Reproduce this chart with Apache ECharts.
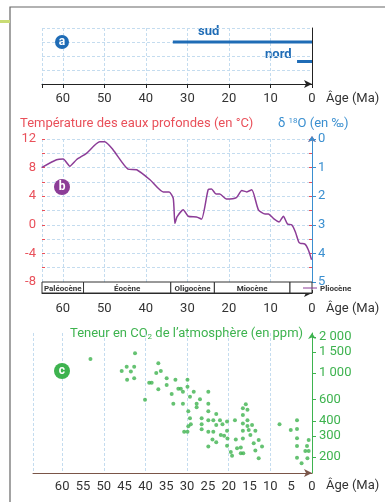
<!DOCTYPE html>
<html>
<head>
<meta charset="utf-8">
<script src="https://cdn.jsdelivr.net/npm/echarts@6.0.0/dist/echarts.min.js"></script>
<style>
  html, body { margin: 0; background: #fff; }
  #chart { width: 385px; height: 502px; }
</style>
</head>
<body>
<div id="chart"></div>
<script>
// --- data ---
const sudSpan = [33.5, 0]
const nordSpan = [3.6, 0]

const tempAge = [65.1, 61.5, 59.9, 58.3, 56.7, 54.3, 51.1, 49.9, 47.9, 44.3, 42.2, 39.0, 35.8, 34.4, 33.4, 33.0, 32.5, 31.0, 29.8, 27.8, 26.6, 25.0, 24.2, 23.1, 22.2, 20.6, 18.2, 16.9, 15.7, 14.5, 12.9, 11.3, 10.5, 9.3, 7.9, 6.9, 5.9, 4.9, 4.0, 3.2, 2.8, 1.7, 0.9, 0.1]
const tempVal = [8.0, 9.1, 9.2, 8.2, 9.1, 10.0, 11.6, 11.6, 10.5, 7.8, 7.7, 6.3, 4.6, 4.6, 3.7, 0.2, 1.1, 2.1, 1.2, 1.1, 0.8, 4.9, 5.0, 4.3, 4.3, 3.6, 3.8, 4.8, 4.6, 4.9, 2.1, 1.5, 1.5, 0.9, 0.4, 1.2, 0.1, 0.0, -1.0, -2.4, -2.6, -2.7, -3.5, -4.9]

const epochNames = ['Paléocène', 'Éocène', 'Oligocène', 'Miocène', 'Pliocène']
const epochStart = [65, 55, 34, 23.5, 5.3]
const epochEnd = [55, 34, 23.5, 5.3, 0]

const co2Age = [53.2, 42.5, 45.7, 44.5, 43.5, 42.7, 44.4, 42.7, 40.1, 39.1, 38.5, 36.9, 37.4, 36.3, 36.9, 34.9, 34.9, 33.7, 33.3, 32.8, 32.1, 31.5, 31.0, 31.0, 29.9, 29.9, 29.3, 28.4, 29.7, 29.3, 29.7, 29.1, 30.7, 29.9, 27.7, 27.7, 26.9, 26.5, 26.5, 26.5, 24.9, 24.9, 24.9, 24.9, 24.9, 24.9, 23.7, 23.7, 23.0, 23.0, 23.9, 23.0, 22.1, 21.5, 21.9, 21.1, 20.4, 20.4, 20.3, 20.4, 19.5, 19.2, 18.5, 18.3, 18.0, 17.1, 17.1, 16.5, 16.6, 16.6, 16.6, 16.6, 16.6, 15.9, 15.5, 15.5, 15.5, 15.2, 14.8, 14.4, 14.0, 13.6, 13.6, 12.8, 12.8, 12.0, 7.8, 5.1, 3.6, 3.6, 3.6, 3.6, 3.6, 2.5, 1.2, 1.6, 0.8, 1.1, 0.8]
const co2Ppm = [1310, 1460, 1040, 1130, 1030, 1130, 880, 905, 600, 830, 830, 1210, 1000, 1040, 735, 905, 795, 670, 555, 880, 740, 740, 700, 555, 880, 770, 635, 700, 480, 420, 360, 375, 325, 325, 520, 555, 605, 420, 375, 340, 700, 555, 480, 405, 325, 245, 405, 325, 455, 370, 280, 265, 405, 375, 305, 300, 395, 330, 285, 248, 220, 205, 405, 280, 236, 240, 215, 215, 285, 330, 380, 448, 510, 550, 495, 405, 362, 335, 305, 370, 260, 226, 330, 277, 195, 244, 375, 335, 405, 342, 286, 247, 197, 177, 247, 224, 224, 195, 277]

const co2Ticks = [200, 300, 400, 600, 1000, 1500, 2000]

// --- style ---
const FONT = 'Roboto, sans-serif'
const FS = 13
const RED = '#e9505a'
const BLUE = '#3a8fd0'
const DARKBLUE = '#1f6cb6'
const PURPLE = '#8c3d97'
const GREEN = '#3eb34f'
const GRID_DASH = { color: '#c4dcef', type: [3, 2], width: 1 }
const hideOver60 = (v) => (v > 60 ? '' : String(v))

const chart = echarts.init(document.getElementById('chart'))

const badge = (x, y, r, color, txt) => ({
  type: 'group',
  z: 100,
  children: [
    { type: 'circle', z: 100, shape: { cx: x, cy: y, r }, style: { fill: color } },
    { type: 'text', z: 101, x, y, style: { text: txt, fill: '#fff', font: 'bold 12px ' + FONT, align: 'center', verticalAlign: 'middle' } },
  ],
})

const ageName = (y) => ({
  type: 'text', x: 326, y,
  style: { text: 'Âge (Ma)', fill: '#333', font: FS + 'px ' + FONT, verticalAlign: 'middle' },
})

const option = {
  animation: false,
  backgroundColor: '#fff',
  textStyle: { fontFamily: FONT },
  grid: [
    { left: 42, right: 73, top: 28, height: 56, outerBoundsMode: 'none' },
    { left: 42, right: 73, top: 139, height: 143, outerBoundsMode: 'none' },
    { left: 42, right: 73, top: 282, height: 11, outerBoundsMode: 'none' },
    { left: 33, right: 73, top: 333, height: 140, outerBoundsMode: 'none' },
  ],
  xAxis: [
    {
      gridIndex: 0, type: 'value', position: 'bottom', min: 0, max: 65, interval: 10, inverse: true,
      axisLine: { lineStyle: { color: '#222', width: 1 }, symbol: ['none', 'arrow'], symbolSize: [6, 8] },
      axisTick: { length: 4, lineStyle: { color: '#222' } },
      axisLabel: { color: '#333', fontSize: FS, margin: 8, fontFamily: FONT, formatter: hideOver60 },
      splitLine: { show: true, lineStyle: GRID_DASH },
    },
    {
      gridIndex: 1, type: 'value', position: 'bottom', min: 0, max: 65, interval: 10, inverse: true,
      axisLine: { show: false }, axisTick: { show: false }, axisLabel: { show: false },
      splitLine: { show: true, lineStyle: GRID_DASH },
    },
    {
      gridIndex: 2, type: 'value', position: 'bottom', min: 0, max: 65, interval: 10, inverse: true,
      axisLine: { lineStyle: { color: '#222', width: 1 }, symbol: ['none', 'arrow'], symbolSize: [6, 8] },
      axisTick: { inside: true, length: 3, lineStyle: { color: '#222' } },
      axisLabel: { color: '#333', fontSize: FS, margin: 9, fontFamily: FONT, formatter: hideOver60 },
      splitLine: { show: false },
    },
    {
      gridIndex: 3, type: 'value', position: 'bottom', min: 0, max: 67, interval: 10, inverse: true,
      axisLine: { show: false }, axisTick: { show: false }, axisLabel: { show: false },
      splitLine: { show: true, lineStyle: GRID_DASH },
    },
    {
      gridIndex: 3, type: 'value', position: 'bottom', min: 0, max: 67, interval: 5, inverse: true,
      axisLine: { lineStyle: { color: '#7a5548', width: 1 }, symbol: ['none', 'arrow'], symbolSize: [6, 8] },
      axisTick: { show: false },
      axisLabel: { color: '#333', fontSize: FS, margin: 7, fontFamily: FONT, formatter: hideOver60 },
      splitLine: { show: false },
    },
  ],
  yAxis: [
    {
      gridIndex: 0, type: 'value', position: 'right', min: 0, max: 4, interval: 1,
      axisLine: { show: true, lineStyle: { color: '#222' } },
      axisTick: { show: false }, axisLabel: { show: false },
      splitLine: { show: true, lineStyle: GRID_DASH },
    },
    {
      gridIndex: 1, type: 'value', position: 'left', min: -8, max: 12, interval: 4,
      axisLine: { show: true, lineStyle: { color: RED }, symbol: ['none', 'arrow'], symbolSize: [6, 6], symbolOffset: [0, 3] },
      axisTick: { show: true, length: 3, lineStyle: { color: RED } },
      minorTick: { show: true, splitNumber: 2, length: 3, lineStyle: { color: RED } },
      axisLabel: { color: RED, fontSize: FS, margin: 6, fontFamily: FONT },
      splitLine: { show: true, lineStyle: GRID_DASH },
      minorSplitLine: { show: true, lineStyle: GRID_DASH },
    },
    {
      gridIndex: 1, type: 'value', position: 'left', min: -8, max: 12, interval: 4,
      axisLine: { show: false },
      axisTick: { show: true, inside: true, length: 3, lineStyle: { color: RED } },
      minorTick: { show: true, splitNumber: 2, length: 3, lineStyle: { color: RED } },
      axisLabel: { show: false }, splitLine: { show: false },
    },
    {
      gridIndex: 1, type: 'value', position: 'right', min: 0, max: 5, interval: 1, inverse: true,
      axisLine: { show: true, lineStyle: { color: BLUE }, symbol: ['none', 'arrow'], symbolSize: [6, 6], symbolOffset: [0, 3] },
      axisTick: { show: true, length: 4, lineStyle: { color: BLUE } },
      axisLabel: { color: BLUE, fontSize: FS, margin: 6, fontFamily: FONT },
      splitLine: { show: false },
    },
    {
      gridIndex: 2, type: 'value', min: 0, max: 1, show: false,
    },
    {
      gridIndex: 3, type: 'log', position: 'right', min: 147, max: 2158,
      axisLine: { show: true, lineStyle: { color: GREEN }, symbol: ['none', 'arrow'], symbolSize: [6, 6] },
      axisTick: { show: true, length: 4, lineStyle: { color: GREEN }, customValues: co2Ticks },
      axisLabel: {
        color: GREEN, fontSize: FS, margin: 7, fontFamily: FONT, customValues: co2Ticks,
        formatter: (v) => (v >= 1000 ? Math.floor(v / 1000) + ' ' + String(v % 1000).padStart(3, '0') : String(v)),
      },
      splitLine: { show: false },
    },
  ],
  series: [
    {
      type: 'line', xAxisIndex: 0, yAxisIndex: 0, symbol: 'none',
      lineStyle: { color: DARKBLUE, width: 3 },
      data: sudSpan.map((a) => [a, 3]),
    },
    {
      type: 'line', xAxisIndex: 0, yAxisIndex: 0, symbol: 'none',
      lineStyle: { color: DARKBLUE, width: 3 },
      data: nordSpan.map((a) => [a, 1.6]),
    },
    {
      type: 'line', xAxisIndex: 1, yAxisIndex: 1, symbol: 'none', smooth: 0.2,
      lineStyle: { color: PURPLE, width: 1.5 },
      data: tempAge.map((a, i) => [a, tempVal[i]]),
    },
    {
      type: 'custom', xAxisIndex: 2, yAxisIndex: 4, clip: false,
      data: epochNames.map((n, i) => [epochStart[i], epochEnd[i]]),
      renderItem: (params, api) => {
        const p0 = api.coord([api.value(0), 1])
        const p1 = api.coord([api.value(1), 0])
        const last = params.dataIndex === epochNames.length - 1
        const children = [
          { type: 'rect', shape: { x: p0[0], y: p0[1], width: p1[0] - p0[0], height: p1[1] - p0[1] }, style: { fill: '#fff', stroke: '#333', lineWidth: 1 } },
        ]
        if (last) {
          children.push({ type: 'line', shape: { x1: p1[0] - 9, y1: p0[1] + 6, x2: p1[0] + 5, y2: p0[1] + 6 }, style: { stroke: PURPLE, lineWidth: 1 } })
          children.push({ type: 'text', style: { text: epochNames[params.dataIndex], x: p1[0] + 8, y: p0[1] + 7, align: 'left', verticalAlign: 'middle', font: 'bold 8px ' + FONT, fill: '#333' } })
        } else {
          children.push({ type: 'text', style: { text: epochNames[params.dataIndex], x: (p0[0] + p1[0]) / 2, y: (p0[1] + p1[1]) / 2 + 1, align: 'center', verticalAlign: 'middle', font: 'bold 8px ' + FONT, fill: '#333' } })
        }
        return { type: 'group', children }
      },
    },
    {
      type: 'scatter', xAxisIndex: 4, yAxisIndex: 5, symbolSize: 4,
      itemStyle: { color: GREEN },
      data: co2Age.map((a, i) => [a, co2Ppm[i]]),
    },
  ],
  graphic: [
    { type: 'rect', shape: { x: 10, y: 7, width: 400, height: 520 }, style: { fill: 'none', stroke: '#666', lineWidth: 1.2 } },
    { type: 'rect', shape: { x: 0, y: 20, width: 10, height: 3 }, style: { fill: '#c9dc74' } },
    badge(62, 42, 7, DARKBLUE, 'a'),
    badge(62, 187, 8, PURPLE, 'b'),
    badge(62, 371, 8, GREEN, 'c'),
    { type: 'text', x: 198, y: 32, style: { text: 'sud', fill: DARKBLUE, font: 'bold 13px ' + FONT, verticalAlign: 'middle' } },
    { type: 'text', x: 265, y: 55, style: { text: 'nord', fill: DARKBLUE, font: 'bold 13px ' + FONT, verticalAlign: 'middle' } },
    ageName(99),
    ageName(309),
    ageName(486),
    { type: 'text', x: 20, y: 124, style: { text: 'Température des eaux profondes (en °C)', fill: RED, font: FS + 'px ' + FONT, verticalAlign: 'middle' } },
    {
      type: 'text', x: 278, y: 124,
      style: {
        text: '{a|δ }{s|18}{a|O (en ‰)}', verticalAlign: 'middle',
        rich: { a: { fill: BLUE, font: FS + 'px ' + FONT }, s: { fill: BLUE, font: '8px ' + FONT, padding: [0, 0, 6, 0] } },
      },
    },
    {
      type: 'text', x: 70, y: 334,
      style: {
        text: '{a|Teneur en CO}{s|2}{a| de l’atmosphère (en ppm)}', verticalAlign: 'middle',
        rich: { a: { fill: GREEN, font: FS + 'px ' + FONT }, s: { fill: GREEN, font: '8px ' + FONT, padding: [6, 0, 0, 0] } },
      },
    },
  ],
}

chart.setOption(option)
</script>
</body>
</html>
